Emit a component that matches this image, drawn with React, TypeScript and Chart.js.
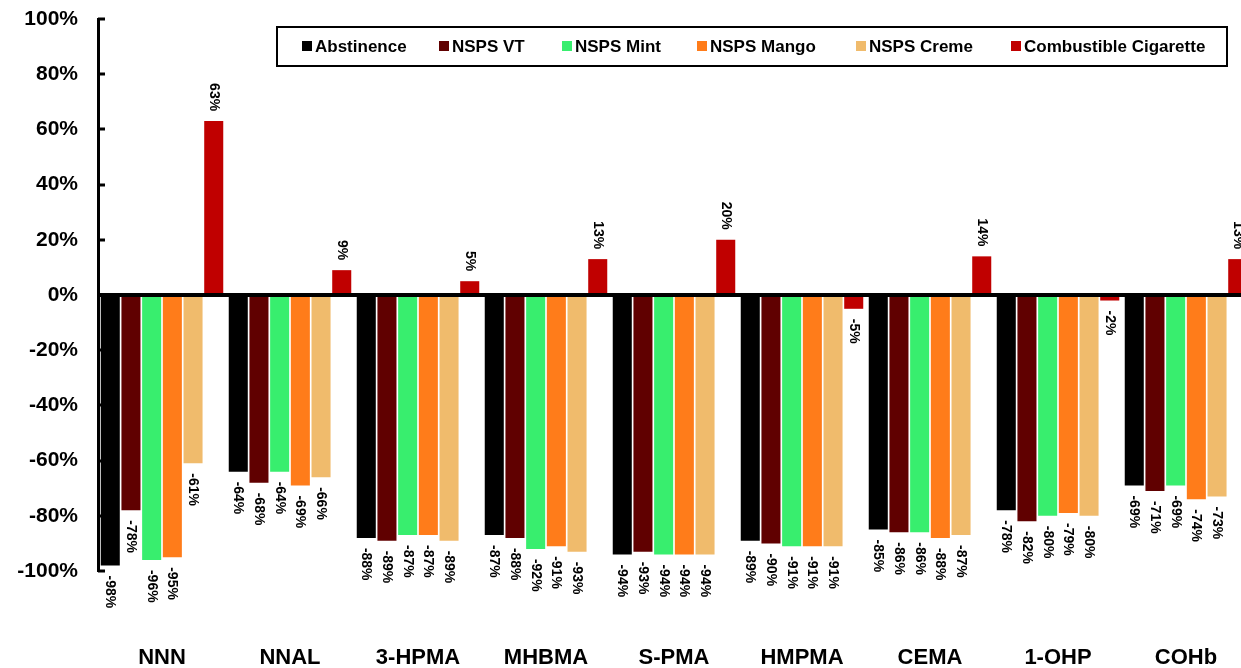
import React, { useEffect, useRef } from "react";
import { Chart, registerables } from "chart.js";

Chart.register(...registerables);

const categories = ["NNN", "NNAL", "3-HPMA", "MHBMA", "S-PMA", "HMPMA", "CEMA", "1-OHP", "COHb"];
const seriesNames = ["Abstinence", "NSPS VT", "NSPS Mint", "NSPS Mango", "NSPS Creme", "Combustible Cigarette"];
const abstinence = [-98, -64, -88, -87, -94, -89, -85, -78, -69];
const nspsVT = [-78, -68, -89, -88, -93, -90, -86, -82, -71];
const nspsMint = [-96, -64, -87, -92, -94, -91, -86, -80, -69];
const nspsMango = [-95, -69, -87, -91, -94, -91, -88, -79, -74];
const nspsCreme = [-61, -66, -89, -93, -94, -91, -87, -80, -73];
const combustible = [63, 9, 5, 13, 20, -5, 14, -2, 13];
const yTicks = [-100, -80, -60, -40, -20, 0, 20, 40, 60, 80, 100];

const seriesValues = [abstinence, nspsVT, nspsMint, nspsMango, nspsCreme, combustible];
const seriesColors = ["#000000", "#600000", "#38EE6E", "#FF7C1A", "#F0BB6C", "#C00000"];
const FONT = "'Liberation Sans', Arial, sans-serif";

const legendSquareX = [302, 439, 562, 697, 856, 1011];

const customPlugin = {
  id: "custom",
  beforeDatasetsDraw(chart: any) {
    const ctx = chart.ctx;
    const y = chart.scales.y;
    const left = chart.chartArea.left;
    ctx.save();
    ctx.strokeStyle = "#000";
    ctx.lineWidth = 3;
    yTicks.forEach((v) => {
      const py = Math.round(y.getPixelForValue(v));
      ctx.beginPath();
      ctx.moveTo(left, py);
      ctx.lineTo(left + 7, py);
      ctx.stroke();
    });
    ctx.restore();
  },
  afterDatasetsDraw(chart: any) {
    const ctx = chart.ctx;
    const y = chart.scales.y;
    const { left, right } = chart.chartArea;
    const zero = y.getPixelForValue(0);
    ctx.save();
    ctx.fillStyle = "#000";
    ctx.fillRect(left, zero - 2, right - left, 4);
    // data labels
    ctx.font = `bold 14px ${FONT}`;
    ctx.fillStyle = "#000";
    ctx.textBaseline = "middle";
    chart.data.datasets.forEach((ds: any, di: number) => {
      const meta = chart.getDatasetMeta(di);
      meta.data.forEach((bar: any, i: number) => {
        const v = ds.data[i];
        const label = `${v}%`;
        ctx.save();
        if (v >= 0) {
          ctx.translate(bar.x, bar.y - 10);
          ctx.rotate(Math.PI / 2);
          ctx.textAlign = "right";
        } else {
          ctx.translate(bar.x, bar.y + 10);
          ctx.rotate(Math.PI / 2);
          ctx.textAlign = "left";
        }
        ctx.fillText(label, 0, 0);
        ctx.restore();
      });
    });
    // legend
    ctx.lineWidth = 2;
    ctx.strokeStyle = "#000";
    ctx.fillStyle = "#fff";
    ctx.fillRect(277, 27, 950, 39);
    ctx.strokeRect(277, 27, 950, 39);
    ctx.font = `bold 17px ${FONT}`;
    ctx.textAlign = "left";
    ctx.textBaseline = "middle";
    chart.data.datasets.forEach((ds: any, di: number) => {
      const x = legendSquareX[di];
      ctx.fillStyle = ds.backgroundColor;
      ctx.fillRect(x, 41, 10, 10);
      ctx.fillStyle = "#000";
      ctx.fillText(ds.label, x + 13, 47);
    });
    ctx.restore();
  },
};

export default function App() {
  const ref = useRef<HTMLCanvasElement>(null);
  useEffect(() => {
    document.body.style.margin = "0";
    if (!ref.current) return;
    const chart = new Chart(ref.current, {
      type: "bar",
      data: {
        labels: categories,
        datasets: seriesNames.map((name, i) => ({
          label: name,
          data: seriesValues[i],
          backgroundColor: seriesColors[i],
          borderWidth: 0,
          categoryPercentage: 0.97,
          barPercentage: 0.92,
        })),
      },
      options: {
        animation: false,
        responsive: false,
        maintainAspectRatio: false,
        devicePixelRatio: 1,
        layout: { padding: { top: 19, right: 0, bottom: 0, left: 0 } },
        plugins: { legend: { display: false }, tooltip: { enabled: false } },
        scales: {
          x: {
            grid: { display: false },
            border: { display: false },
            ticks: {
              color: "#000",
              font: { family: FONT, size: 22, weight: "bold" },
              padding: 66,
              maxRotation: 0,
            },
            afterFit: (s: any) => {
              s.height = 97;
              s.paddingLeft = 0;
              s.paddingRight = 0;
            },
          },
          y: {
            min: -100,
            max: 100,
            grid: { display: false, drawTicks: false },
            border: { display: true, color: "#000", width: 3 },
            ticks: {
              stepSize: 20,
              color: "#000",
              padding: 20,
              font: { family: FONT, size: 21, weight: "bold" },
              callback: (v: any) => `${v}%`,
            },
            afterFit: (s: any) => {
              s.width = 98;
              s.paddingTop = 0;
              s.paddingBottom = 0;
            },
          },
        },
      },
      plugins: [customPlugin],
    });
    return () => chart.destroy();
  }, []);
  return (
    <div style={{ width: 1241, height: 668, overflow: "hidden", background: "#fff" }}>
      <canvas ref={ref} width={1250} height={668} style={{ display: "block", width: 1250, height: 668 }} />
    </div>
  );
}
